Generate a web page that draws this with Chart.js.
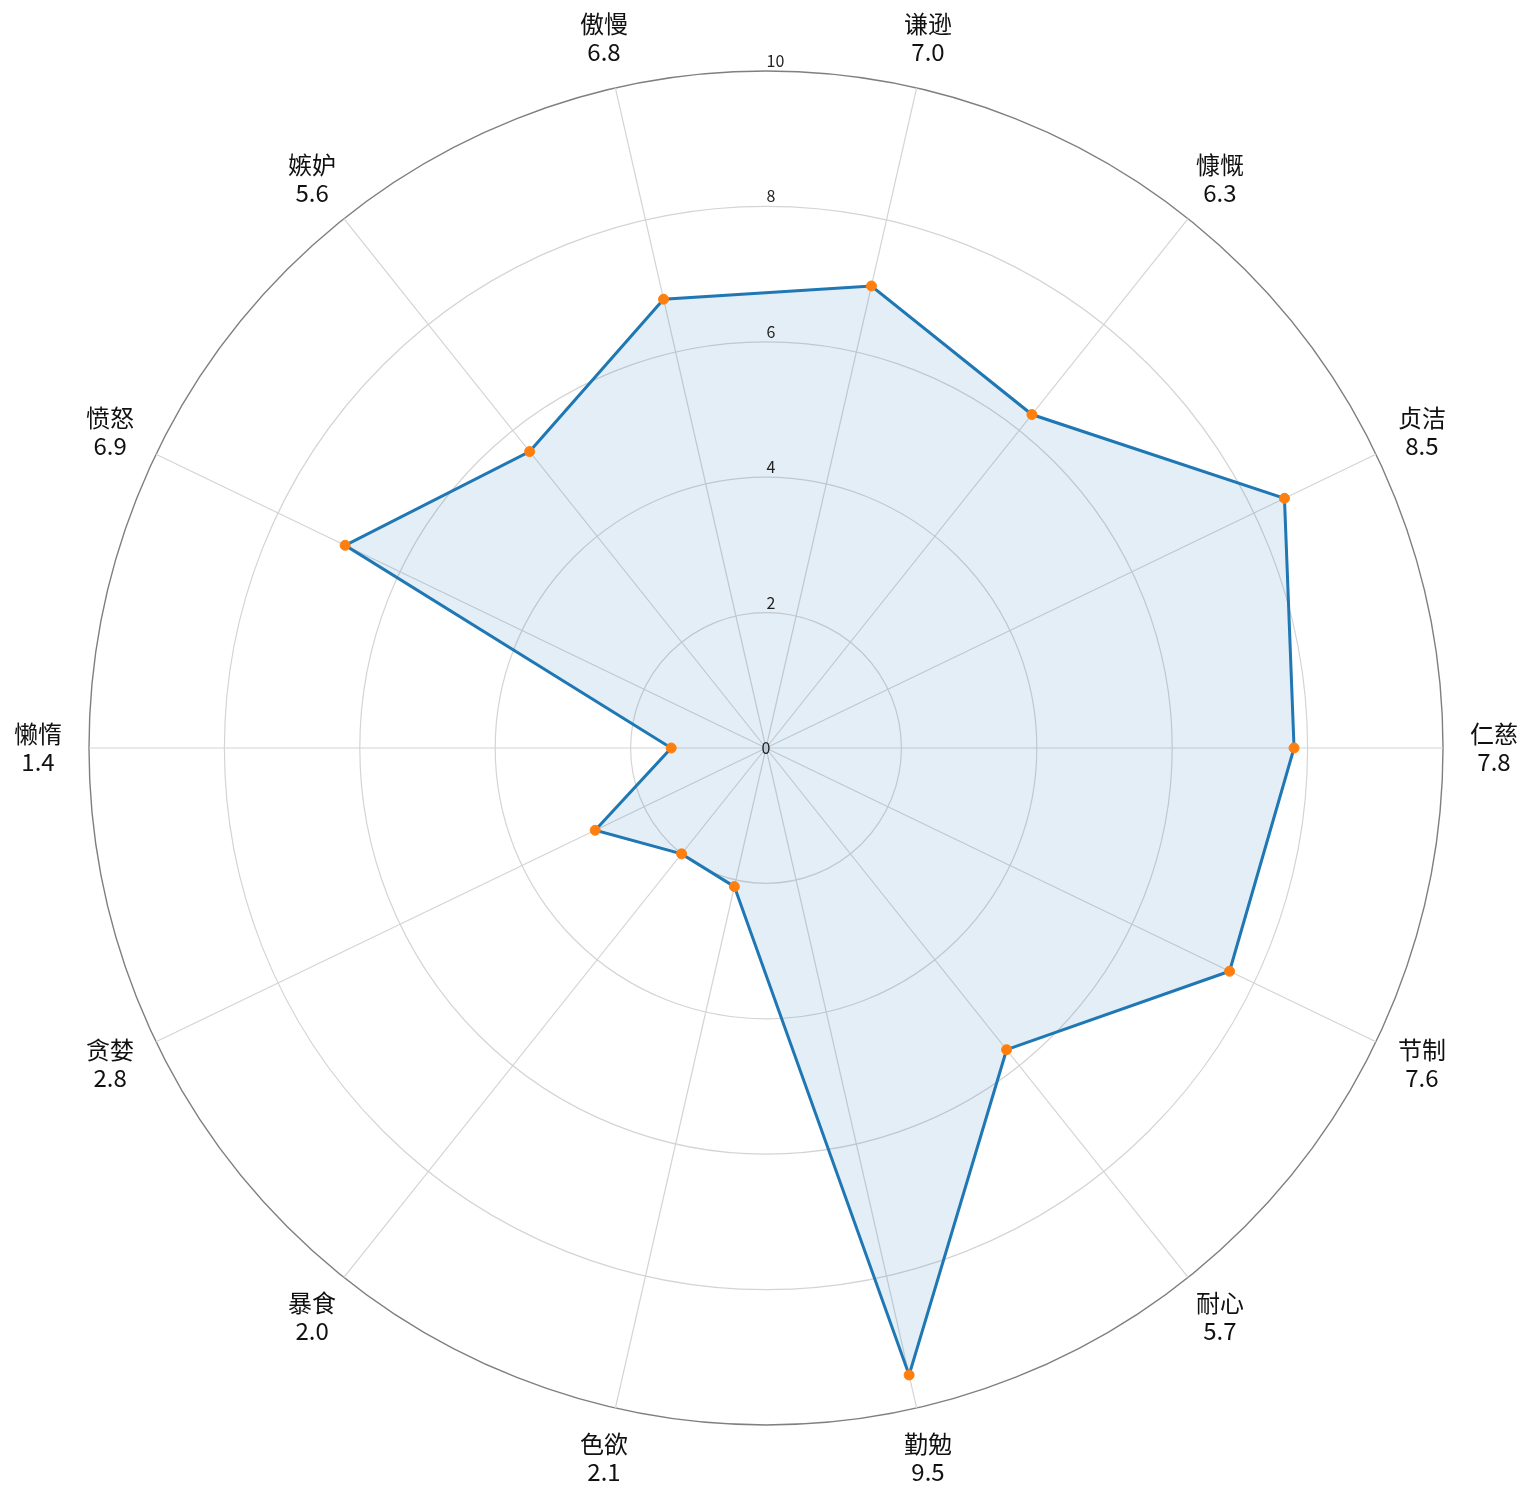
<!DOCTYPE html>
<html>
<head>
<meta charset="utf-8">
<script src="https://cdn.jsdelivr.net/npm/chart.js@4"></script>
<style>
    html, body { margin: 0; padding: 0; background: #ffffff; }
    #wrap { width: 1532px; height: 1499px; }
</style>
</head>
<body>
<div id="wrap"><canvas id="radarChart" width="1532" height="1499"></canvas></div>
<script>
// Categories in original (counter-clockwise from the right) order
const categories = ['仁慈', '贞洁', '慷慨', '谦逊', '傲慢', '嫉妒', '愤怒', '懒惰', '贪婪', '暴食', '色欲', '勤勉', '耐心', '节制'];
const scores = [7.8, 8.5, 6.3, 7.0, 6.8, 5.6, 6.9, 1.4, 2.8, 2.0, 2.1, 9.5, 5.7, 7.6];
const tickValues = [0, 2, 4, 6, 8, 10];

// Chart.js goes clockwise, so flip the order (keep first item at the right)
const n = categories.length;
const order = categories.map(function(c, i) { return (n - i) % n; });
const chartLabels = order.map(function(i) { return categories[i]; });
const chartScores = order.map(function(i) { return scores[i]; });

const FONT = "'Noto Sans CJK SC', 'Noto Sans', sans-serif";

// Point labels: name + value, centered outside the outer ring
const pointLabelPlugin = {
    id: 'pointLabelPlugin',
    afterDraw: function(chart) {
        const scale = chart.scales.r;
        const ctx = chart.ctx;
        ctx.save();
        ctx.fillStyle = '#111111';
        ctx.font = '24px ' + FONT;
        ctx.textAlign = 'center';
        ctx.textBaseline = 'middle';
        chartLabels.forEach(function(label, i) {
            const pos = scale.getPointPosition(i, scale.drawingArea + 51);
            ctx.fillText(label, pos.x, pos.y - 14);
            ctx.fillText(chartScores[i].toFixed(1), pos.x, pos.y + 14);
        });
        ctx.restore();
    }
};

// Radial tick labels along the vertical axis (including 0 at the centre)
const tickLabelPlugin = {
    id: 'tickLabelPlugin',
    afterDraw: function(chart) {
        const scale = chart.scales.r;
        const ctx = chart.ctx;
        ctx.save();
        ctx.fillStyle = '#222222';
        ctx.font = '16px ' + FONT;
        ctx.textAlign = 'left';
        ctx.textBaseline = 'middle';
        tickValues.forEach(function(v) {
            const d = scale.getDistanceFromCenterForValue(v);
            if (v === 0) {
                ctx.fillText(String(v), scale.xCenter - 4.5, scale.yCenter);
            } else {
                ctx.fillText(String(v), scale.xCenter + 0.5, scale.yCenter - d - 10);
            }
        });
        ctx.restore();
    }
};

new Chart(document.getElementById('radarChart').getContext('2d'), {
    type: 'radar',
    data: {
        labels: chartLabels,
        datasets: [{
            data: chartScores,
            borderColor: '#1f77b4',
            borderWidth: 3,
            backgroundColor: 'rgba(31, 119, 180, 0.12)',
            fill: true,
            tension: 0,
            pointRadius: 5,
            pointBorderWidth: 1,
            pointBackgroundColor: '#ff7f0e',
            pointBorderColor: '#ff7f0e'
        }]
    },
    options: {
        responsive: false,
        animation: false,
        layout: {
            padding: { top: 71, bottom: 73, left: 0, right: 0 }
        },
        plugins: {
            legend: { display: false },
            tooltip: { enabled: false }
        },
        scales: {
            r: {
                min: 0,
                max: 10,
                startAngle: 90,
                ticks: {
                    display: false,
                    stepSize: 2
                },
                pointLabels: { display: false },
                grid: {
                    circular: true,
                    color: function(context) {
                        return context.tick && context.tick.value === 10 ? '#7f7f7f' : '#d4d4d4';
                    },
                    lineWidth: function(context) {
                        return context.tick && context.tick.value === 10 ? 1.4 : 1.2;
                    }
                },
                angleLines: {
                    color: '#d4d4d4',
                    lineWidth: 1.2
                }
            }
        }
    },
    plugins: [pointLabelPlugin, tickLabelPlugin]
});
</script>
</body>
</html>
